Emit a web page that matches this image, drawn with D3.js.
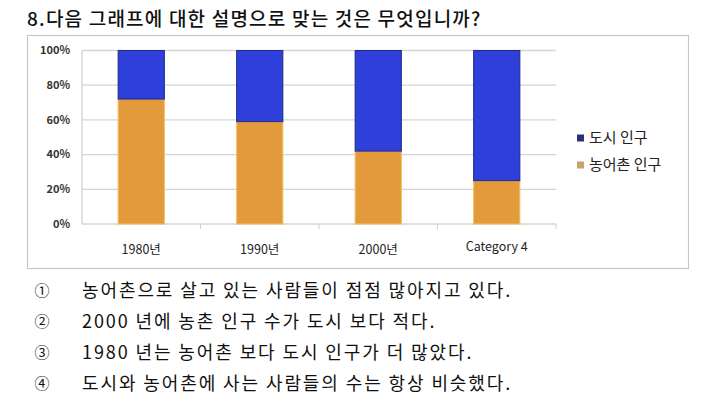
<!DOCTYPE html>
<html>
<head>
<meta charset="utf-8">
<script src="https://cdn.jsdelivr.net/npm/d3@7/dist/d3.min.js"></script>
<style>
  html, body { margin: 0; padding: 0; background: #fff; }
  svg { display: block; font-family: "Noto Sans CJK KR", "Noto Sans", sans-serif; }
</style>
</head>
<body>
<svg id="chart" width="715" height="412"></svg>
<script>
const title = "8.다음 그래프에 대한 설명으로 맞는 것은 무엇입니까?";
const categories = ["1980년", "1990년", "2000년", "Category 4"];
const ruralValues = [72, 59, 42, 25];
const urbanValues = [28, 41, 58, 75];
const seriesNames = ["농어촌 인구", "도시 인구"];
const yTicks = [0, 20, 40, 60, 80, 100];
const optionMarks = ["①", "②", "③", "④"];
const optionTexts = [
  "농어촌으로 살고 있는 사람들이 점점 많아지고 있다.",
  "2000 년에 농촌 인구 수가 도시 보다 적다.",
  "1980 년는 농어촌 보다 도시 인구가 더 많았다.",
  "도시와 농어촌에 사는 사람들의 수는 항상 비슷했다."
];

const svg = d3.select("#chart");

// Title
svg.append("text")
  .attr("x", 27).attr("y", 26)
  .attr("font-size", 19).attr("font-weight", 500)
  .attr("letter-spacing", 1.2)
  .attr("fill", "#111")
  .text(title);

// Chart frame
svg.append("rect")
  .attr("x", 27.5).attr("y", 35.5)
  .attr("width", 661).attr("height", 233)
  .attr("fill", "#fff").attr("stroke", "#c8c8c8").attr("stroke-width", 1.2);

const plot = { left: 82, right: 556, top: 50.5, bottom: 224 };

const x = d3.scaleBand().domain(categories)
  .range([plot.left, plot.right]).paddingInner(0.61).paddingOuter(0.305);
const xb = d3.scaleBand().domain(categories).range([plot.left, plot.right]);
const y = d3.scaleLinear().domain([0, 100]).range([plot.bottom, plot.top]);

// Gridlines
svg.append("g").selectAll("line").data(yTicks).join("line")
  .attr("x1", plot.left).attr("x2", plot.right)
  .attr("y1", d => y(d)).attr("y2", d => y(d))
  .attr("stroke", "#d4d4d4").attr("stroke-width", 1.3);

// Y axis line
svg.append("line")
  .attr("x1", plot.left).attr("x2", plot.left)
  .attr("y1", plot.top).attr("y2", plot.bottom)
  .attr("stroke", "#cfcfcf").attr("stroke-width", 1.2);

// x-axis category separator ticks
svg.append("g").selectAll("line").data(categories).join("line")
  .attr("x1", d => xb(d) + xb.bandwidth()).attr("x2", d => xb(d) + xb.bandwidth())
  .attr("y1", plot.bottom).attr("y2", plot.bottom + 5)
  .attr("stroke", "#cfcfcf").attr("stroke-width", 1);

// Y labels
svg.append("g").selectAll("text").data(yTicks).join("text")
  .attr("x", 70).attr("y", d => y(d))
  .attr("dy", "0.35em").attr("text-anchor", "end")
  .attr("font-size", 11).attr("font-weight", 700).attr("fill", "#333")
  .text(d => d + "%");

// Stacked bars
const table = categories.map((c, i) => ({ cat: c, rural: ruralValues[i], urban: urbanValues[i] }));
const stack = d3.stack().keys(["rural", "urban"])(table);
const fills = { rural: "#e39a3b", urban: "#2e40d9" };
const strokes = { rural: "#f0c060", urban: "#1f2a8a" };

svg.append("g").selectAll("g").data(stack).join("g")
  .attr("fill", d => fills[d.key])
  .attr("stroke", d => strokes[d.key])
  .attr("stroke-width", 1)
  .selectAll("rect").data(d => d).join("rect")
  .attr("x", d => x(d.data.cat))
  .attr("width", x.bandwidth())
  .attr("y", d => y(d[1]))
  .attr("height", d => y(d[0]) - y(d[1]));

// Category labels
svg.append("g").selectAll("text").data(categories).join("text")
  .attr("x", d => x(d) + x.bandwidth() / 2)
  .attr("y", d => d === "Category 4" ? 247 : 250)
  .attr("dy", "0.35em").attr("text-anchor", "middle")
  .attr("font-size", 12.5).attr("fill", "#222")
  .text(d => d);

// Legend
const legendItems = [
  { name: seriesNames[1], color: "#2b2f7a" },
  { name: seriesNames[0], color: "#caa070" }
];
const lg = svg.append("g").selectAll("g").data(legendItems).join("g")
  .attr("transform", (d, i) => `translate(577, ${138 + i * 27})`);
lg.append("rect").attr("x", 0).attr("y", -3.5).attr("width", 7).attr("height", 7)
  .attr("fill", d => d.color);
lg.append("text").attr("x", 12).attr("y", 0).attr("dy", "0.36em")
  .attr("font-size", 15).attr("fill", "#222")
  .text(d => d.name);

// Options
const opt = svg.append("g").selectAll("g").data(optionTexts).join("g")
  .attr("transform", (d, i) => `translate(0, ${291 + i * 30.7})`);
opt.append("text").attr("x", 42).attr("dy", "0.36em").attr("text-anchor", "middle")
  .attr("font-size", 15).attr("fill", "#111")
  .text((d, i) => optionMarks[i]);
opt.append("text").attr("x", 82).attr("dy", "0.36em")
  .attr("font-size", 18).attr("letter-spacing", 1.9).attr("fill", "#111")
  .text(d => d);
</script>
</body>
</html>
